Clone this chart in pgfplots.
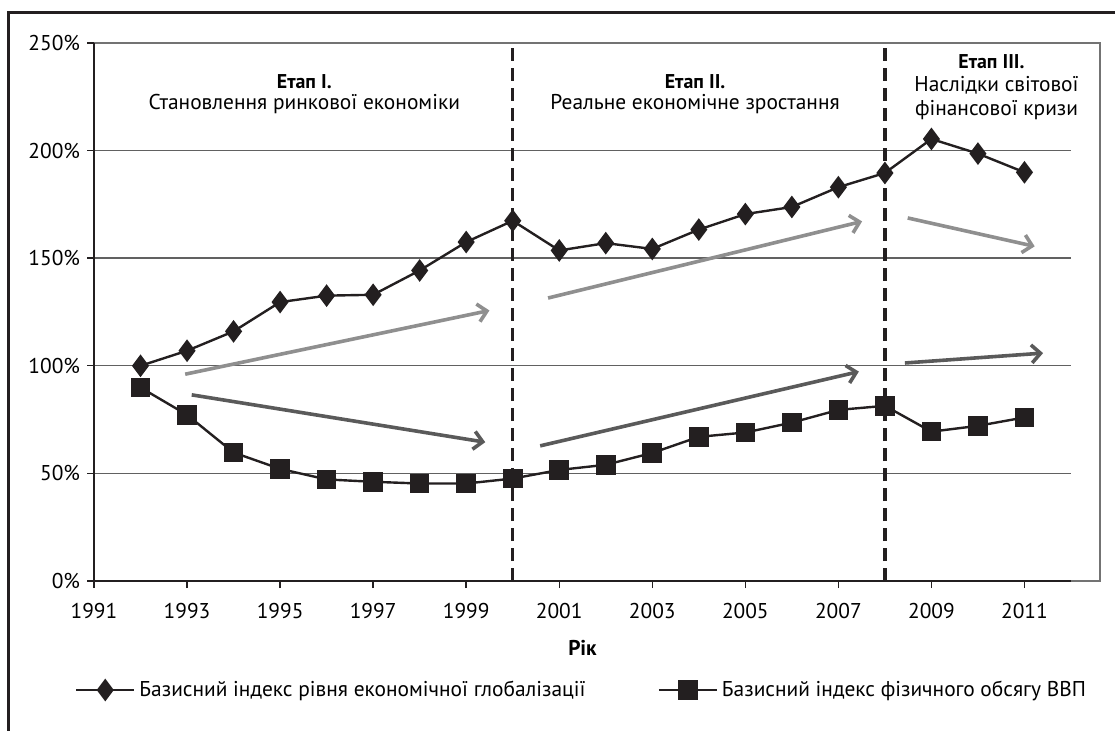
\documentclass[border=0pt]{standalone}
\usepackage{pgfplots}
\pgfplotsset{compat=1.18}
\usepackage{fontspec}
\setmainfont{PT Sans}
\usetikzlibrary{arrows.meta}
\definecolor{lightarr}{HTML}{8F8F8F}
\definecolor{darkarr}{HTML}{5A5A5A}
\definecolor{ink}{HTML}{231F20}
\begin{document}
\begin{tikzpicture}[font=\fontsize{10.7bp}{12.8bp}\selectfont]
\useasboundingbox (-47bp,-75bp) rectangle (510.5bp,290.5bp);
\draw[ink, line width=1.5bp] (-42.5bp,-76bp) -- (-42.5bp,284bp) -- (511bp,284bp);
\begin{axis}[
  scale only axis, width=488.5bp, height=269bp,
  at={(0,0)}, anchor=south west,
  xmin=1991, xmax=2012, ymin=0, ymax=250,
  clip=false,
  axis line style={draw=none},
  xtick={1991,1993,...,2011},
  xticklabels={1991,1993,1995,1997,1999,2001,2003,2005,2007,2009,2011},
  ytick={0,50,100,150,200,250},
  yticklabels={0\%,50\%,100\%,150\%,200\%,250\%},
  xtick pos=bottom, ytick pos=left,
  tick align=outside, major tick length=3.5bp,
  tick style={ink, line width=0.7bp},
  xticklabel style={yshift=-4bp},
  ymajorgrids, grid style={black!62, line width=0.7bp},
  xlabel={\bfseries Рік},
  xlabel style={at={(axis description cs:0.5,0)}, anchor=center, yshift=-33.5bp},
  legend columns=2,
  legend style={draw=none, fill=none, at={(0.5,-0.2026)}, anchor=center,
    inner sep=0pt, /tikz/every even column/.append style={column sep=34bp},
    font=\fontsize{10.7bp}{12.8bp}\selectfont},
  legend image code/.code={\draw[mark repeat=2,mark phase=2] plot coordinates {(0bp,0bp) (14.5bp,0bp) (29bp,0bp)};},
]
\addplot[ink, line width=1.2bp, mark=diamond*, mark size=4.7bp, mark options={fill=ink, solid}] coordinates {
(1992,100) (1993,107) (1994,116) (1995,129.6) (1996,132.6) (1997,133)
(1998,144.3) (1999,157.5) (2000,167.4) (2001,153.6) (2002,157) (2003,154.3)
(2004,163.3) (2005,170.5) (2006,173.8) (2007,183) (2008,189.6) (2009,205.4)
(2010,198.6) (2011,189.9)};
\addlegendentry{Базисний індекс рівня економічної глобалізації}
\addplot[ink, line width=1.2bp, mark=square*, mark size=4.3bp, mark options={fill=ink, solid}] coordinates {
(1992,89.9) (1993,77.2) (1994,59.7) (1995,52.1) (1996,47.2) (1997,46.1)
(1998,45.3) (1999,45.3) (2000,47.6) (2001,51.6) (2002,54) (2003,59.5)
(2004,67) (2005,69) (2006,73.6) (2007,79.5) (2008,81.4) (2009,69.4)
(2010,72.1) (2011,76)};
\addlegendentry{Базисний індекс фізичного обсягу ВВП}
% trend arrows
\addplot[forget plot, lightarr, line width=1.8bp, -{Straight Barb[length=4.5bp,width=9bp,line width=1.8bp]}] coordinates {(1992.96,96.1) (1999.5,125.7)};
\addplot[forget plot, lightarr, line width=1.8bp, -{Straight Barb[length=4.5bp,width=9bp,line width=1.8bp]}] coordinates {(2000.76,131.5) (2007.51,167.1)};
\addplot[forget plot, lightarr, line width=1.8bp, -{Straight Barb[length=4.5bp,width=9bp,line width=1.8bp]}] coordinates {(2008.49,168.7) (2011.22,155.5)};
\addplot[forget plot, darkarr, line width=1.8bp, -{Straight Barb[length=4.5bp,width=9bp,line width=1.8bp]}] coordinates {(1993.1,86.5) (1999.41,64.5)};
\addplot[forget plot, darkarr, line width=1.8bp, -{Straight Barb[length=4.5bp,width=9bp,line width=1.8bp]}] coordinates {(2000.59,62.8) (2007.44,97.3)};
\addplot[forget plot, darkarr, line width=1.8bp, -{Straight Barb[length=4.5bp,width=9bp,line width=1.8bp]}] coordinates {(2008.43,101.3) (2011.4,105.9)};
% stage separators
\addplot[forget plot, ink, line width=1.6bp, dash pattern=on 6.5bp off 3.5bp] coordinates {(2000,0) (2000,247.7)};
\addplot[forget plot, ink, line width=1.6bp, dash pattern=on 6.5bp off 3.5bp] coordinates {(2008,0) (2008,247.7)};
% frame of plot area
\draw[black!55, line width=0.8bp] (axis cs:1991,250) -- (axis cs:2012.62,250) -- (axis cs:2012.62,0) -- (axis cs:2012,0);
\draw[ink, line width=0.8bp] (axis cs:1991,250) -- (axis cs:1991,0) -- (axis cs:2012,0);
% stage texts
\node[font=\bfseries] at (axis cs:1995.52,231.9) {Етап I.};
\node at (axis cs:1995.52,221.7) {Становлення ринкової економіки};
\node[font=\bfseries] at (axis cs:2003.92,231.9) {Етап II.};
\node at (axis cs:2003.92,221.7) {Реальне економічне зростання};
\node[font=\bfseries] at (axis cs:2010.29,241.2) {Етап III.};
\node at (axis cs:2010.4,230.5) {Наслідки світової};
\node at (axis cs:2010.4,218.9) {фінансової кризи};
\end{axis}
\end{tikzpicture}
\end{document}
